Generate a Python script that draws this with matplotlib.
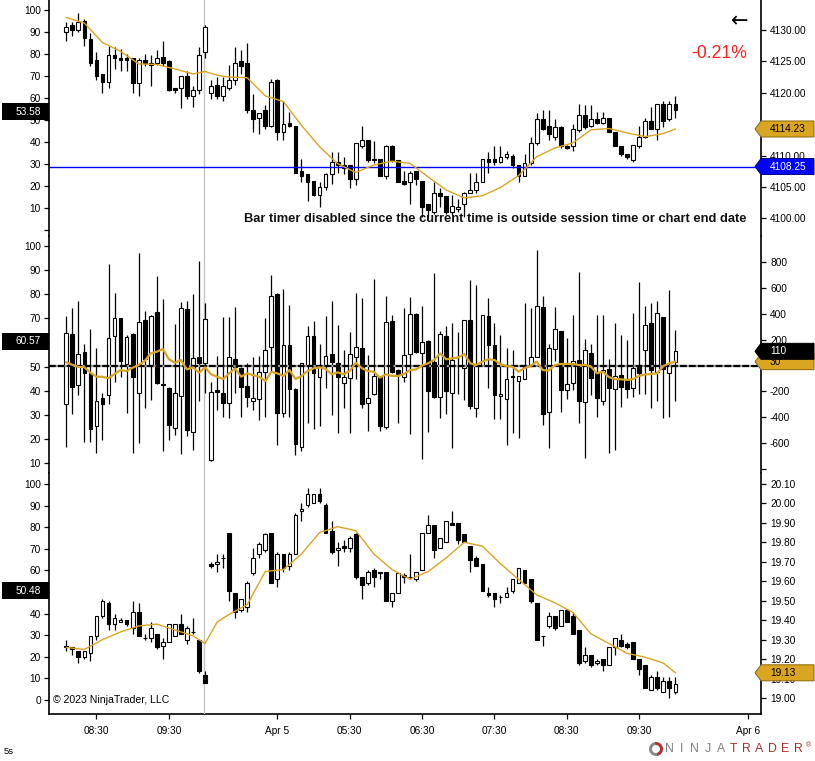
import matplotlib
matplotlib.use("Agg")
import matplotlib.pyplot as plt
import numpy as np
from matplotlib.patches import Polygon, Rectangle, Wedge
from matplotlib.transforms import IdentityTransform

plt.rcParams["font.family"] = ["Liberation Sans", "DejaVu Sans"]

W, H = 815, 761

# ---------------- top panel: ES 5 min bars ----------------
es_open = [4129.75, 4130.75, 4130.0, 4131.5, 4128.5, 4125.25, 4123.0, 4121.75, 4126.0, 4125.5,
           4125.5, 4125.5, 4121.5, 4125.25, 4124.75, 4124.75, 4125.75, 4125.0, 4120.75, 4120.75,
           4122.75, 4119.5, 4120.5, 4126.5, 4120.0, 4121.25, 4119.5, 4120.75, 4122.0, 4125.0,
           4124.75, 4117.25, 4116.0, 4117.25, 4114.75, 4122.0, 4113.75, 4115.25, 4114.75, 4107.5,
           4107.0, 4106.0, 4103.75, 4105.0, 4107.0, 4109.0, 4108.5, 4108.5, 4106.25, 4111.5,
           4112.5, 4109.5, 4109.5, 4106.75, 4111.5, 4109.25, 4106.0, 4105.75, 4107.5, 4106.0,
           4102.25, 4101.0, 4104.0, 4103.5, 4101.0, 4101.5, 4102.25, 4104.0, 4104.5, 4105.75,
           4109.5, 4109.5, 4109.0, 4109.75, 4110.0, 4108.5, 4106.75, 4108.75, 4112.0, 4115.75,
           4114.75, 4113.0, 4114.5, 4111.5, 4111.5, 4114.0, 4116.5, 4114.75, 4115.75, 4115.25,
           4116.0, 4113.75, 4111.5, 4110.25, 4109.25, 4111.5, 4113.0, 4115.5, 4114.25, 4118.25,
           4115.75, 4118.25]
es_high = [4131.25, 4131.25, 4132.75, 4131.75, 4129.5, 4126.5, 4123.0, 4127.5, 4127.25, 4127.0,
           4126.25, 4125.5, 4125.5, 4126.25, 4126.0, 4126.75, 4128.25, 4125.25, 4120.75, 4122.75,
           4123.5, 4121.0, 4127.25, 4130.75, 4122.0, 4122.5, 4122.5, 4124.5, 4127.25, 4126.75,
           4128.0, 4119.75, 4116.75, 4118.0, 4122.25, 4122.25, 4118.75, 4117.0, 4114.75, 4109.5,
           4107.0, 4106.0, 4105.75, 4107.25, 4110.5, 4110.5, 4109.75, 4108.5, 4112.0, 4114.75,
           4112.5, 4112.25, 4109.5, 4111.75, 4111.75, 4109.25, 4107.5, 4107.5, 4107.5, 4106.0,
           4102.25, 4105.75, 4104.75, 4103.5, 4103.75, 4103.0, 4104.25, 4107.25, 4107.25, 4109.5,
           4110.5, 4111.5, 4111.5, 4110.75, 4110.25, 4108.5, 4110.25, 4113.0, 4116.75, 4117.25,
           4117.25, 4115.75, 4114.75, 4111.75, 4115.0, 4118.25, 4118.0, 4118.0, 4117.0, 4117.0,
           4116.0, 4113.75, 4111.5, 4110.25, 4111.75, 4114.75, 4116.0, 4117.75, 4118.25, 4118.75,
           4118.75, 4119.5]
es_low = [4128.25, 4129.0, 4129.75, 4127.5, 4124.25, 4122.0, 4120.0, 4120.75, 4123.75, 4123.5,
          4123.5, 4120.0, 4119.5, 4124.25, 4121.0, 4124.5, 4124.25, 4120.25, 4120.0, 4117.5,
          4119.0, 4117.75, 4119.75, 4125.5, 4119.0, 4119.0, 4118.75, 4120.5, 4121.25, 4123.0,
          4116.75, 4113.75, 4113.5, 4114.25, 4114.5, 4112.5, 4112.5, 4114.5, 4107.25, 4105.75,
          4102.75, 4103.5, 4101.75, 4104.5, 4105.5, 4107.25, 4107.0, 4104.75, 4105.25, 4111.25,
          4109.0, 4108.75, 4106.75, 4106.25, 4109.0, 4105.75, 4105.25, 4102.25, 4105.25, 4100.25,
          4100.0, 4100.75, 4101.75, 4100.75, 4100.5, 4101.0, 4100.25, 4104.0, 4104.0, 4105.75,
          4107.25, 4108.5, 4108.75, 4109.5, 4108.0, 4105.75, 4106.75, 4108.5, 4111.75, 4114.0,
          4112.5, 4112.5, 4111.25, 4111.0, 4110.75, 4113.75, 4114.25, 4114.5, 4115.0, 4115.0,
          4113.75, 4111.5, 4110.0, 4109.5, 4109.0, 4111.25, 4112.75, 4114.25, 4112.5, 4114.5,
          4115.5, 4116.0]
es_close = [4130.5, 4130.0, 4131.25, 4128.75, 4124.75, 4122.75, 4121.75, 4126.0, 4125.5, 4125.25,
            4125.25, 4121.5, 4125.25, 4124.75, 4124.5, 4125.5, 4124.75, 4120.5, 4120.5, 4122.75,
            4119.5, 4120.5, 4126.0, 4130.5, 4121.0, 4119.5, 4121.0, 4122.0, 4124.75, 4124.25,
            4117.25, 4115.75, 4116.75, 4114.75, 4121.75, 4113.75, 4115.0, 4114.75, 4107.25, 4106.75,
            4105.75, 4103.75, 4105.0, 4107.0, 4109.0, 4108.5, 4108.0, 4106.25, 4112.0, 4112.5,
            4109.25, 4109.25, 4106.75, 4111.5, 4109.25, 4105.75, 4105.5, 4107.25, 4106.25, 4101.75,
            4101.25, 4104.0, 4103.5, 4101.0, 4102.0, 4101.75, 4104.0, 4104.5, 4105.75, 4109.5,
            4109.0, 4109.0, 4109.75, 4110.25, 4108.5, 4106.75, 4108.75, 4112.0, 4115.75, 4114.25,
            4113.5, 4114.5, 4111.5, 4111.25, 4114.25, 4116.5, 4114.5, 4115.75, 4115.25, 4116.0,
            4113.75, 4111.5, 4110.25, 4109.75, 4111.75, 4113.0, 4115.5, 4114.25, 4118.25, 4115.5,
            4118.25, 4117.25]

# ---------------- middle panel: delta bars ----------------
delta_open = [-301, 242, -154, 102, -56, -472, -255, -231, 229, 366,
              9, 242, -216, 353, -4, 412, -143, -177, -487, -236,
              435, -516, 68, 17, -733, -193, -216, -288, 48, -22,
              -159, -273, -262, -48, 141, 554, -371, 159, -182, -629,
              -4, 229, -87, -4, 89, 17, -133, -94, 68, 133,
              -288, -224, -87, -474, 345, -35, -87, 87, 399, 94,
              190, 27, -242, 229, -211, 0, -17, 350, -327, 1,
              384, 156, -239, -262, -81, -118, -102, -4, 66, 453,
              -358, 125, 267, -190, -138, 43, -280, 99, -48, -273,
              -30, -185, -76, -112, -177, -4, 120, 327, -48, 373,
              -56, 30]
delta_high = [384, 443, 500, 167, 283, 138, -216, 784, 565, 366,
              240, 250, 870, 422, 395, 694, 513, -170, 319, 495,
              500, 552, 810, 487, -128, 74, 373, 373, 451, -15,
              22, 68, 74, 371, 702, 559, 590, 469, -175, 22,
              306, 348, 167, 384, 500, 314, 120, 260, 565, 521,
              81, 668, -80, 539, 391, -30, 443, 528, 404, 461,
              195, 714, 267, 306, 327, 260, 350, 663, 624, 389,
              526, 327, 236, 133, 120, -84, 487, 448, 895, 536,
              164, 456, 267, 211, 391, 722, 203, 164, 391, 391,
              48, 327, 236, 198, 404, 650, 461, 482, 500, 373,
              585, 275]
delta_low = [-629, -379, -226, -596, -596, -681, -578, -301, -125, -87,
             -366, -681, -603, -332, -267, -145, -663, -578, -539, -689,
             -547, -655, -275, -216, -740, -345, -397, -404, -216, -397,
             -319, -345, -422, -397, -48, -616, -397, -397, -696, -660,
             -443, -492, -469, -177, -384, -521, -332, -521, -102, -332,
             -508, -229, -508, -495, -60, -443, -125, -534, 95, -727,
             -513, -250, -404, -379, -637, -224, -270, -340, -397, -4,
             -172, -417, -412, -616, -526, -565, -102, -4, 66, -463,
             -642, 35, -360, -257, -190, -443, -720, -229, -397, -306,
             -676, -655, -319, -255, -242, -221, -224, -332, -273, -410,
             -397, -273]
delta_close = [249, -169, 87, -56, -495, -273, -301, 216, 371, 35,
               224, -89, 340, 48, 386, -138, -149, -461, -216, 448,
               -500, 61, 17, 358, -203, -203, -288, 68, -9, -164,
               -242, -249, -48, 120, 539, -366, 159, -180, -611, 17,
               229, -56, -4, 74, 27, -87, -87, 87, 141, -301,
               -255, -81, -469, 335, -48, -68, 79, 399, 102, 182,
               -198, -242, 242, -198, 43, -5, 350, -314, -4, 389,
               156, -231, -221, -107, -87, -84, 1, 66, 459, -379,
               133, 280, -190, -146, 37, -273, 120, -99, -249, -35,
               -177, -81, -164, -185, -22, -61, 314, -35, 404, -30,
               -4, 110]
delta_ma = [25, 5, -10, -14, -56, -87, -87, -99, -66, -35,
            -43, -17, 4, 35, 94, 107, 128, 50, 20, 43,
            -30, -14, -56, -14, -68, -87, -105, -61, -22, -87,
            -61, -75, -87, -120, -50, -61, -81, -35, -105, -81,
            -43, -22, -14, -27, -68, -53, -68, -43, 22, -20,
            -43, -48, -94, -68, -81, -81, -66, -35, -30, 0,
            17, 43, 94, 48, 56, 63, 89, 17, 4, 30,
            48, 43, 10, -4, -10, -48, -20, -4, 30, -35,
            -40, 4, 12, 12, 12, 4, 4, -9, -60, -48,
            -90, -105, -107, -112, -105, -80, -70, -66, -60, -4,
            17, 30]

# ---------------- bottom panel ----------------
vx_open = [19.26, 19.26, 19.24, 19.21, 19.23, 19.32, 19.42, 19.49, 19.38, 19.39,
           19.40, 19.36, 19.44, 19.31, 19.31, 19.33, 19.27, 19.29, 19.32, 19.38,
           19.30, 19.34, 19.30, 19.12, 19.69, 19.69, 19.72, 19.85, 19.54, 19.45,
           19.47, 19.64, 19.74, 19.76, 19.85, 19.61, 19.74, 19.68, 19.74, 19.96,
           19.99, 20.00, 20.05, 19.99, 19.86, 19.76, 19.78, 19.77, 19.84, 19.62,
           19.59, 19.66, 19.64, 19.65, 19.50, 19.54, 19.63, 19.62, 19.61, 19.66,
           19.85, 19.89, 19.77, 19.80, 19.90, 19.90, 19.84, 19.78, 19.72, 19.69,
           19.54, 19.54, 19.52, 19.52, 19.55, 19.59, 19.66, 19.61, 19.49, 19.32,
           19.37, 19.42, 19.37, 19.45, 19.42, 19.35, 19.19, 19.22, 19.18, 19.20,
           19.17, 19.26, 19.30, 19.28, 19.29, 19.20, 19.17, 19.04, 19.11, 19.03,
           19.09, 19.03]
vx_high = [19.30, 19.26, 19.24, 19.24, 19.32, 19.42, 19.51, 19.50, 19.43, 19.41,
           19.40, 19.50, 19.49, 19.33, 19.39, 19.33, 19.31, 19.38, 19.38, 19.43,
           19.37, 19.41, 19.30, 19.14, 19.70, 19.74, 19.74, 19.85, 19.54, 19.51,
           19.60, 19.77, 19.80, 19.85, 19.85, 19.75, 19.74, 19.75, 19.95, 20.00,
           20.08, 20.05, 20.08, 20.00, 19.91, 19.80, 19.81, 19.83, 19.85, 19.62,
           19.66, 19.67, 19.65, 19.65, 19.54, 19.64, 19.64, 19.74, 19.65, 19.85,
           19.94, 19.89, 19.82, 19.91, 19.96, 19.90, 19.84, 19.78, 19.73, 19.69,
           19.57, 19.54, 19.53, 19.57, 19.61, 19.67, 19.66, 19.61, 19.49, 19.32,
           19.44, 19.42, 19.45, 19.46, 19.44, 19.35, 19.26, 19.22, 19.20, 19.20,
           19.26, 19.31, 19.33, 19.29, 19.29, 19.20, 19.17, 19.12, 19.14, 19.11,
           19.11, 19.11]
vx_low = [19.24, 19.22, 19.18, 19.20, 19.19, 19.30, 19.41, 19.35, 19.35, 19.39,
          19.37, 19.33, 19.32, 19.30, 19.29, 19.25, 19.20, 19.29, 19.32, 19.33,
          19.28, 19.33, 19.13, 19.08, 19.67, 19.65, 19.67, 19.50, 19.41, 19.44,
          19.44, 19.63, 19.72, 19.75, 19.59, 19.57, 19.65, 19.66, 19.74, 19.91,
          19.98, 20.00, 20.00, 19.85, 19.74, 19.68, 19.75, 19.75, 19.61, 19.51,
          19.58, 19.57, 19.61, 19.50, 19.47, 19.54, 19.59, 19.61, 19.60, 19.66,
          19.85, 19.72, 19.77, 19.80, 19.89, 19.79, 19.80, 19.65, 19.68, 19.55,
          19.52, 19.47, 19.49, 19.52, 19.54, 19.59, 19.59, 19.49, 19.30, 19.27,
          19.36, 19.35, 19.37, 19.39, 19.33, 19.17, 19.18, 19.16, 19.17, 19.14,
          19.17, 19.22, 19.26, 19.25, 19.20, 19.12, 19.05, 19.04, 19.04, 19.03,
          19.00, 19.02]
vx_close = [19.27, 19.25, 19.21, 19.24, 19.32, 19.42, 19.50, 19.38, 19.41, 19.40,
            19.38, 19.44, 19.32, 19.31, 19.36, 19.26, 19.29, 19.38, 19.38, 19.33,
            19.36, 19.34, 19.14, 19.08, 19.68, 19.70, 19.72, 19.55, 19.44, 19.51,
            19.59, 19.72, 19.79, 19.84, 19.59, 19.74, 19.67, 19.74, 19.94, 19.97,
            20.05, 20.05, 20.01, 19.85, 19.75, 19.77, 19.77, 19.82, 19.62, 19.58,
            19.65, 19.62, 19.65, 19.50, 19.54, 19.64, 19.62, 19.62, 19.65, 19.85,
            19.89, 19.76, 19.82, 19.91, 19.89, 19.81, 19.80, 19.71, 19.68, 19.55,
            19.53, 19.51, 19.52, 19.54, 19.61, 19.67, 19.59, 19.50, 19.30, 19.32,
            19.42, 19.36, 19.45, 19.39, 19.33, 19.18, 19.22, 19.17, 19.19, 19.17,
            19.26, 19.31, 19.27, 19.26, 19.20, 19.15, 19.05, 19.11, 19.05, 19.09,
            19.05, 19.07]

# moving averages read at these bars
ma_bars = [0, 3, 6, 9, 12, 15, 18, 21, 23, 25, 27, 30, 33, 36, 39, 42, 45, 48,
           51, 54, 57, 60, 63, 66, 69, 72, 75, 78, 81, 84, 87, 90, 93, 96, 99, 101]
es_ma = [4132.0, 4131.1, 4128.0, 4126.6, 4124.6, 4124.5, 4123.8, 4123.0, 4123.4, 4122.8,
         4122.5, 4122.4, 4119.5, 4118.6, 4114.8, 4111.4, 4108.7, 4107.3, 4108.5, 4109.1,
         4108.75, 4106.6, 4104.5, 4103.25, 4103.6, 4104.9, 4106.8, 4109.8, 4111.2, 4112.0,
         4114.1, 4114.3, 4113.6, 4113.0, 4113.5, 4114.23]
vx_ma = [19.26, 19.25, 19.30, 19.34, 19.37, 19.38, 19.35, 19.32, 19.28, 19.39,
         19.43, 19.48, 19.65, 19.66, 19.74, 19.85, 19.88, 19.86, 19.74, 19.66,
         19.61, 19.65, 19.72, 19.80, 19.78, 19.69, 19.61, 19.53, 19.49, 19.44,
         19.33, 19.28, 19.23, 19.21, 19.18, 19.13]

time_ticks = [5, 17, 35, 47, 59, 71, 83, 95, 113]
time_labels = ["08:30", "09:30", "Apr 5", "05:30", "06:30", "07:30", "08:30", "09:30", "Apr 6"]
session_break = 22.9
ref_price = 4108.25

FS = 7.3
GOLD = "#DAA520"
ID = IdentityTransform()

fig = plt.figure(figsize=(W / 100, H / 100), dpi=100)


def make_panel(y0, y1, ylim, lylim):
    axl = fig.add_axes([49 / W, 1 - y1 / H, 712 / W, (y1 - y0) / H])
    ax = axl.twinx()
    axl.set_xlim(-2.87, 115.2)
    axl.set_ylim(*lylim)
    ax.set_ylim(*ylim)
    for s in ("top", "right", "bottom"):
        axl.spines[s].set_visible(False)
    for s in ("top", "left", "bottom"):
        ax.spines[s].set_visible(False)
    axl.spines["left"].set_linewidth(1.2)
    ax.spines["right"].set_linewidth(1.2)
    axl.tick_params(axis="y", length=3.6, width=0.9, pad=2.2, labelsize=FS)
    ax.tick_params(axis="y", length=3.6, width=0.9, pad=2.9, labelsize=FS)
    axl.set_xticks([])
    return axl, ax


def candles(ax, o, h, l, c):
    o, h, l, c = map(np.asarray, (o, h, l, c))
    x = np.arange(len(o))
    ax.vlines(x, l, h, color="black", lw=0.9, zorder=2)
    colors = np.where(c > o, "white", "black")
    ax.bar(x, np.abs(c - o), 0.62, bottom=np.minimum(o, c), color=colors,
           edgecolor="black", lw=0.8, zorder=3)


def right_tag(ax, value, text, face, tcol, edge, h=16):
    y = ax.transData.transform((0, value))[1]
    pts = [(755, y), (761, y + h / 2), (814, y + h / 2), (814, y - h / 2), (761, y - h / 2)]
    fig.add_artist(Polygon(pts, closed=True, transform=ID, facecolor=face,
                           edgecolor=edge, lw=0.7, zorder=10))
    fig.text(770, y, text, transform=ID, color=tcol, fontsize=FS,
             ha="left", va="center", zorder=11)


def left_tag(axl, value, text):
    y = axl.transData.transform((0, value))[1]
    fig.add_artist(Rectangle((2, y - 8.5), 47, 17, transform=ID,
                             facecolor="black", edgecolor="none", zorder=10))
    fig.text(41, y, text, transform=ID, color="white", fontsize=FS,
             ha="right", va="center", zorder=11)


# ---- top panel
axl1, ax1 = make_panel(0, 236, (4097.18, 4134.78), (-2.9, 104.55))
candles(ax1, es_open, es_high, es_low, es_close)
ax1.plot(ma_bars, es_ma, color=GOLD, lw=1.0, zorder=5)
ax1.axhline(ref_price, color="#0000FF", lw=1.0, zorder=4)
top_ticks = np.arange(4100, 4131, 5)
ax1.set_yticks(top_ticks)
# the 4115 label sits under the price tag
ax1.set_yticklabels(["" if v == 4115 else f"{v:.2f}" for v in top_ticks])
axl1.set_yticks(np.arange(0, 101, 10))
axl1.set_yticklabels([""] + [str(v) for v in range(10, 101, 10)])

# ---- middle panel
axl2, ax2 = make_panel(236, 473, (-833.3, 1003.9), (6.0, 104.14))
candles(ax2, delta_open, delta_high, delta_low, delta_close)
ax2.axhline(0, color="#999999", lw=1.6, zorder=4)
ax2.axhline(0, color="black", lw=1.6, dashes=(3, 1), zorder=4)
ax2.plot(range(len(delta_ma)), delta_ma, color=GOLD, lw=1.6, zorder=5)
mid_ticks = np.arange(-800, 801, 200)
ax2.set_yticks(mid_ticks)
ax2.set_yticklabels(["" if v in (-800, 0) else str(v) for v in mid_ticks])
axl2.set_yticks(np.arange(10, 101, 10))
axl2.set_yticklabels(["" if v == 60 else str(v) for v in range(10, 101, 10)])

# ---- bottom panel
axl3, ax3 = make_panel(473, 714, (18.9185, 20.1557), (-6.48, 105.09))
candles(ax3, vx_open, vx_high, vx_low, vx_close)
ax3.plot(ma_bars, vx_ma, color=GOLD, lw=1.0, zorder=5)
bt = np.round(np.arange(19.0, 20.11, 0.1), 2)
ax3.set_yticks(bt)
ax3.set_yticklabels([f"{v:.2f}" for v in bt])
axl3.set_yticks(np.arange(0, 101, 10))
axl3.set_yticklabels(["" if v == 50 else str(v) for v in range(0, 101, 10)])
axl3.spines["bottom"].set_visible(True)
axl3.spines["bottom"].set_linewidth(1.2)
axl3.set_xticks(time_ticks)
axl3.set_xticklabels(time_labels)
axl3.tick_params(axis="x", length=3.6, width=0.9, pad=5, labelsize=FS)

for a in (ax1, ax2, ax3):
    a.axvline(session_break, color="#C4C4C4", lw=1.0, zorder=1)

# ---- value tags
right_tag(ax1, es_ma[-1], f"{es_ma[-1]:.2f}", GOLD, "black", "#8B6508")
right_tag(ax1, ref_price, f"{ref_price:.2f}", "#0000FF", "white", "#00008B")
right_tag(ax2, delta_ma[-1], str(delta_ma[-1]), GOLD, "black", "#8B6508")
right_tag(ax2, delta_close[-1], str(delta_close[-1]), "black", "white", "black")
right_tag(ax3, vx_ma[-1], f"{vx_ma[-1]:.2f}", GOLD, "black", "#8B6508")
left_tag(axl1, 53.58, "53.58")
left_tag(axl2, 60.57, "60.57")
left_tag(axl3, 50.48, "50.48")


def ptext(x, y, s, **kw):
    fig.text(x, H - y, s, transform=ID, **kw)


ptext(748, 21, "\u2190", fontsize=15, ha="right", va="center",
      family=["DejaVu Sans"], color="black")
ptext(747, 53, "-0.21%", fontsize=12.7, ha="right", va="center", color="#FF2020")
ptext(747, 219, "Bar timer disabled since the current time is outside session time or chart end date",
      fontsize=9.3, fontweight="bold", ha="right", va="center", color="#111111")
ptext(53, 700, "\u00a9 2023 NinjaTrader, LLC", fontsize=7.6, ha="left", va="center")
ptext(4, 752, "5s", fontsize=6.8, ha="left", va="center")

# ---- logo
fig.add_artist(Wedge((656, H - 749), 7, 100, 280, width=3, transform=ID,
                     facecolor="#8A8A8A", edgecolor="none", zorder=10))
fig.add_artist(Wedge((656, H - 749), 7, -80, 100, width=3, transform=ID,
                     facecolor="#B03030", edgecolor="none", zorder=10))
for k, ch in enumerate("NINJATRADER"):
    col = "#808080" if k < 5 else "#A0302C"
    ptext(669 + 12.9 * k, 749, ch, fontsize=8.8, ha="center", va="center", color=col)
ptext(808, 746, "\u00ae", fontsize=5, ha="center", va="center", color="#A0302C")

fig.savefig("out.png", dpi=100)
